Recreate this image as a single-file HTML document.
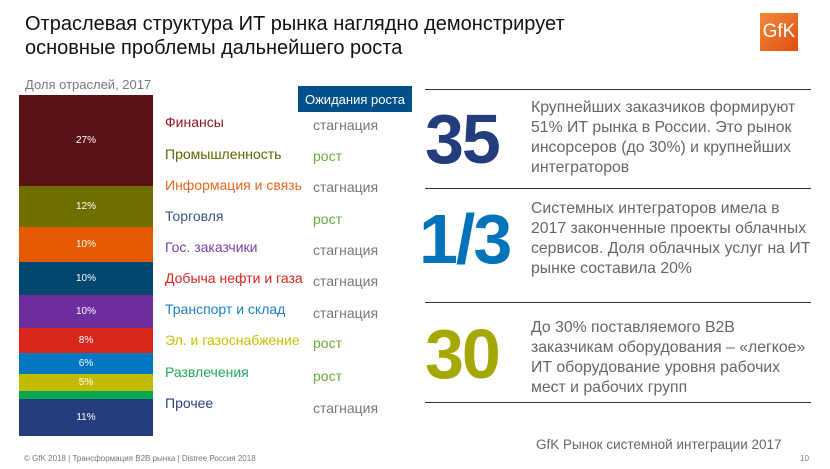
<!DOCTYPE html>
<html><head><meta charset="utf-8"><style>
body{margin:0;width:830px;height:469px;background:#fff;position:relative;overflow:hidden;font-family:"Liberation Sans","DejaVu Sans",sans-serif}
.a{position:absolute;white-space:nowrap}
.seg{position:absolute;left:19px;width:134px;color:#fff;font-size:10px;display:flex;align-items:center;justify-content:center}
.lab{position:absolute;left:165px;font-size:14px}
.exp{position:absolute;left:313px;font-size:14px}
.hl{position:absolute;left:425px;width:386px;height:1px;background:#333}
.big{position:absolute;font-weight:bold;font-size:70px;letter-spacing:-2px}
.txt{position:absolute;left:531px;font-size:15.8px;line-height:20px;color:#666}
</style></head><body>
<div class="a" style="left:25px;top:12px;font-size:20px;line-height:24px;color:#111">Отраслевая структура ИТ рынка наглядно демонстрирует<br>основные проблемы дальнейшего роста</div>
<div class="a" style="left:760px;top:13px;width:38px;height:38px;background:linear-gradient(135deg,#f08a3a,#e24e10);color:#fff;font-size:19px;display:flex;align-items:center;justify-content:center">GfK</div>
<div class="a" style="left:25px;top:77px;font-size:13px;color:#777">Доля отраслей, 2017</div>
<div class="seg" style="top:95px;height:91px;background:#5a1016">27%</div>
<div class="seg" style="top:186px;height:41px;background:#6f6f00">12%</div>
<div class="seg" style="top:227px;height:35px;background:#e35a00">10%</div>
<div class="seg" style="top:262px;height:33px;background:#004770">10%</div>
<div class="seg" style="top:295px;height:33px;background:#6e2d9e">10%</div>
<div class="seg" style="top:328px;height:25px;background:#d9261c">8%</div>
<div class="seg" style="top:353px;height:21px;background:#0078c1">6%</div>
<div class="seg" style="top:374px;height:17px;background:#c2bc00">5%</div>
<div class="seg" style="top:391px;height:8px;background:#00a94f"></div>
<div class="seg" style="top:399px;height:37px;background:#223c7c">11%</div>
<div class="a" style="left:298px;top:86px;width:114px;height:26px;background:#005189;color:#fff;font-size:13px;display:flex;align-items:center;justify-content:center">Ожидания роста</div>
<div class="lab" style="top:114px;color:#8b1a22">Финансы</div>
<div class="lab" style="top:146px;color:#5f6400">Промышленность</div>
<div class="lab" style="top:177px;color:#e06a20">Информация и связь</div>
<div class="lab" style="top:208px;color:#3a5590">Торговля</div>
<div class="lab" style="top:239px;color:#7a3fa5">Гос. заказчики</div>
<div class="lab" style="top:270px;color:#d9261c">Добыча нефти и газа</div>
<div class="lab" style="top:301px;color:#1a7fbf">Транспорт и склад</div>
<div class="lab" style="top:332px;color:#c9c000">Эл. и газоснабжение</div>
<div class="lab" style="top:364px;color:#1fa85a">Развлечения</div>
<div class="lab" style="top:395px;color:#2a3f7a">Прочее</div>
<div class="exp" style="top:117px;color:#777">стагнация</div>
<div class="exp" style="top:148px;color:#6aaa3a">рост</div>
<div class="exp" style="top:179px;color:#777">стагнация</div>
<div class="exp" style="top:211px;color:#6aaa3a">рост</div>
<div class="exp" style="top:242px;color:#777">стагнация</div>
<div class="exp" style="top:273px;color:#777">стагнация</div>
<div class="exp" style="top:305px;color:#777">стагнация</div>
<div class="exp" style="top:335px;color:#6aaa3a">рост</div>
<div class="exp" style="top:368px;color:#6aaa3a">рост</div>
<div class="exp" style="top:400px;color:#777">стагнация</div>
<div class="hl" style="top:89px"></div>
<div class="hl" style="top:188px"></div>
<div class="hl" style="top:302px"></div>
<div class="hl" style="top:402px"></div>
<div class="big" style="left:425px;top:99px;color:#223c7c">35</div>
<div class="big" style="left:419px;top:199px;color:#0073bb">1/3</div>
<div class="big" style="left:425px;top:314px;color:#a5a800">30</div>
<div class="txt" style="top:98px">Крупнейших заказчиков формируют<br>51% ИТ рынка в России. Это рынок<br>инсорсеров (до 30%) и крупнейших<br>интеграторов</div>
<div class="txt" style="top:199px">Системных интеграторов имела в<br>2017 законченные проекты облачных<br>сервисов. Доля облачных услуг на ИТ<br>рынке составила 20%</div>
<div class="txt" style="top:318px">До 30% поставляемого B2B<br>заказчикам оборудования – «легкое»<br>ИТ оборудование уровня рабочих<br>мест и рабочих групп</div>
<div class="a" style="left:536px;top:437px;font-size:13.5px;color:#666">GfK Рынок системной интеграции 2017</div>
<div class="a" style="left:24px;top:454px;font-size:8px;color:#777">© GfK 2018 | Трансформация B2B рынка | Distree Россия 2018</div>
<div class="a" style="left:800px;top:454px;font-size:8px;color:#777">10</div>
</body></html>
